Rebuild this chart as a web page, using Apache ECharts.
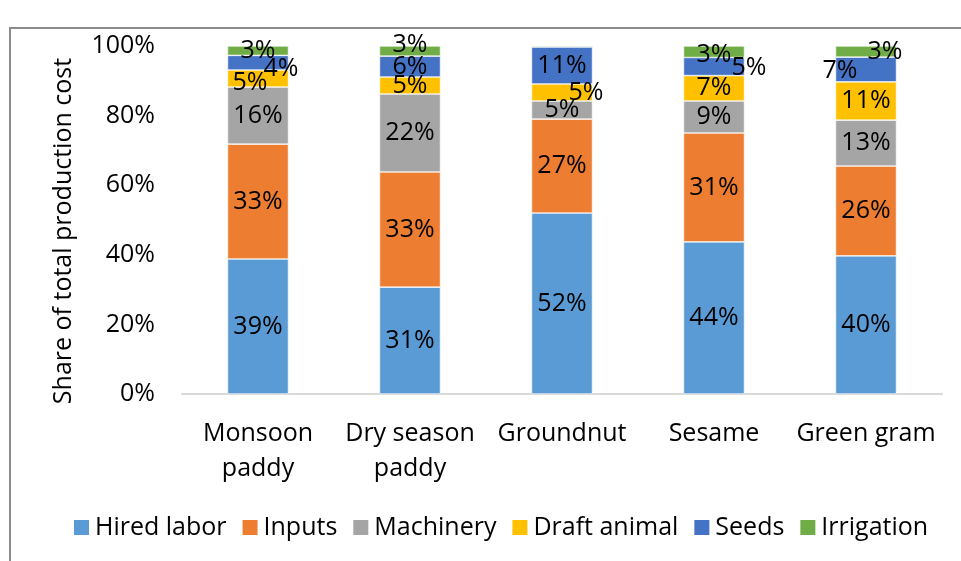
<!DOCTYPE html>
<html>
<head>
<meta charset="utf-8">
<title>Share of total production cost</title>
<script src="https://cdn.jsdelivr.net/npm/echarts@6/dist/echarts.min.js"></script>
<style>
  html, body { margin: 0; padding: 0; background: #fff; }
  #chart { width: 961px; height: 561px; }
</style>
</head>
<body>
<div id="chart"></div>
<script>
// crops on the x axis
var categories = ["Monsoon\npaddy", "Dry season\npaddy", "Groundnut", "Sesame", "Green gram"];

// share of total production cost (%), one array per cost item
var hiredLabor = [38.8, 30.7, 52.0, 43.7, 39.7];
var inputs = [33.0, 33.1, 27.0, 31.3, 25.8];
var machinery = [16.4, 22.4, 5.2, 9.2, 13.2];
var draftAnimal = [4.9, 4.9, 4.9, 7.3, 11.0];
var seeds = [4.2, 6.0, 10.6, 5.2, 7.1];
var irrigation = [2.7, 2.9, 0.3, 3.3, 3.2];

var yTicks = [0, 20, 40, 60, 80, 100];

var FONT = "Open Sans";
var FS = 25;

// labels that were dragged away from the segment centre in the original
var labelShift = {
  "Draft animal": [[-8, 4], null, [24, 0], null, null],
  "Seeds": [[23, 6], null, null, [35, 1], [-26, 1]],
  "Irrigation": [null, [0, -6], null, [0, 3], [19, 0]]
};

var seriesDefs = [
  { name: "Hired labor", data: hiredLabor, color: "#5B9BD5" },
  { name: "Inputs", data: inputs, color: "#ED7D31" },
  { name: "Machinery", data: machinery, color: "#A5A5A5" },
  { name: "Draft animal", data: draftAnimal, color: "#FFC000" },
  { name: "Seeds", data: seeds, color: "#4472C4" },
  { name: "Irrigation", data: irrigation, color: "#70AD47" }
];

var chart = echarts.init(document.getElementById("chart"));

var series = seriesDefs.map(function(s) {
  var shifts = labelShift[s.name] || [];
  return {
    name: s.name,
    type: "bar",
    stack: "total",
    barWidth: 61,
    itemStyle: {
      color: s.color,
      borderColor: "#ffffff",
      borderWidth: 0.6
    },
    label: {
      show: true,
      position: "inside",
      color: "#000",
      fontFamily: FONT,
      fontSize: FS,
      formatter: function(p) {
        return p.value < 1 ? "" : Math.round(p.value) + "%";
      }
    },
    data: s.data.map(function(v, i) {
      var item = { value: v };
      if (shifts[i]) item.label = { offset: shifts[i] };
      return item;
    })
  };
});

var option = {
  animation: false,
  backgroundColor: "#fff",
  textStyle: { fontFamily: FONT },
  grid: {
    left: 182,
    right: 19,
    top: 46,
    bottom: 167
  },
  legend: {
    data: seriesDefs.map(function(s) { return s.name; }),
    left: 67,
    top: 510,
    icon: "rect",
    itemWidth: 17,
    itemHeight: 17,
    itemGap: 14,
    textStyle: {
      color: "#000",
      fontFamily: FONT,
      fontSize: FS
    }
  },
  xAxis: {
    type: "category",
    data: categories,
    axisTick: { show: false },
    axisLine: {
      lineStyle: { color: "#d9d9d9", width: 2 }
    },
    axisLabel: {
      color: "#000",
      fontFamily: FONT,
      fontSize: FS,
      lineHeight: 35,
      margin: 22,
      interval: 0
    }
  },
  yAxis: {
    type: "value",
    min: yTicks[0],
    max: yTicks[yTicks.length - 1],
    interval: yTicks[1] - yTicks[0],
    name: "Share of total production cost",
    nameLocation: "middle",
    nameGap: 106,
    nameTextStyle: {
      color: "#000",
      fontFamily: FONT,
      fontSize: FS,
      // push the rotated title a little lower, like the original
      padding: [0, 22, 0, 0]
    },
    axisLine: { show: false },
    axisTick: { show: false },
    splitLine: { show: false },
    axisLabel: {
      color: "#000",
      fontFamily: FONT,
      fontSize: FS,
      margin: 27,
      formatter: "{value}%"
    }
  },
  // outer frame of the original figure (left and top edges only are visible)
  graphic: [
    {
      type: "polyline",
      shape: { points: [[10, 561], [10, 28], [961, 28]] },
      style: { stroke: "#8c8c8c", lineWidth: 2, fill: null },
      silent: true
    }
  ],
  series: series
};

chart.setOption(option);
</script>
</body>
</html>
